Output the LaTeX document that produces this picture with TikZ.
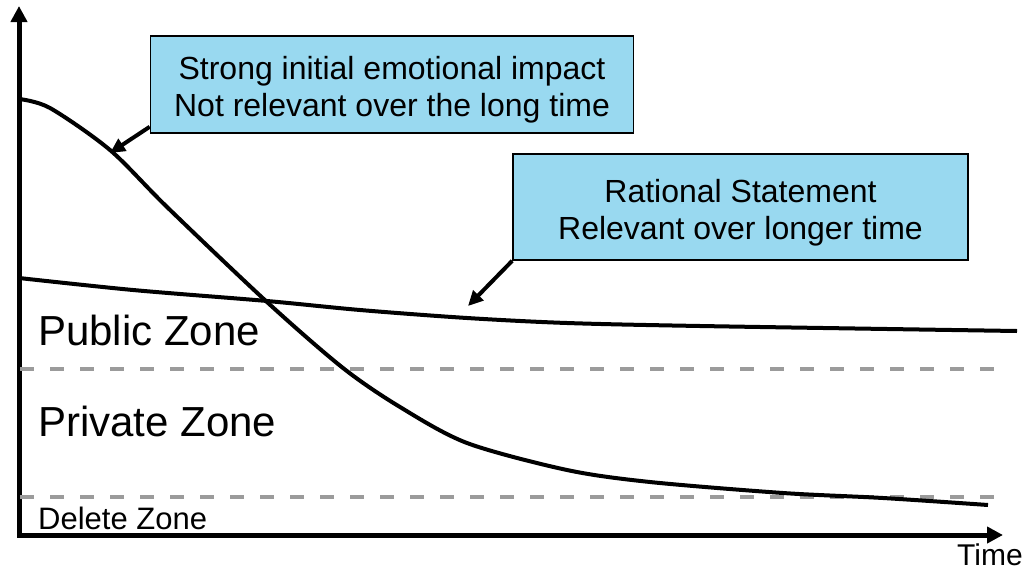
\documentclass[tikz,border=0pt]{standalone}
\usepackage{fontspec}
\setmainfont{Liberation Sans}
\usetikzlibrary{arrows.meta}
\definecolor{calloutblue}{RGB}{153,217,240}
\definecolor{zonegray}{RGB}{155,155,155}
\newcommand{\calloutstrut}{\rule{0pt}{34pt}}
\begin{document}
\begin{tikzpicture}[x=1pt, y=-1pt, every node/.style={align=center}]
\tikzset{
  callout/.style={draw, line width=1.6pt, fill=calloutblue, inner sep=0pt, font=\fontsize{32}{37}\selectfont},
  zone/.style={anchor=base west, inner sep=0pt},
  axis/.style={line width=5pt, {Triangle[length=16pt,width=16pt]}-{Triangle[length=16pt,width=16pt]}},
  border/.style={draw=zonegray, line width=3.6pt, dash pattern=on 14pt off 16pt},
  curve/.style={line width=4pt},
  pointer/.style={line width=4pt, -{Triangle[length=15pt,width=14pt]}}
}
\useasboundingbox (0,0) rectangle (1025,570);

% axes
\coordinate (origin) at (19,535);
\coordinate (ytop) at (19,6);
\coordinate (xend) at (1003,535);
\draw[axis] (ytop) -- (origin) -- (xend);

% zone borders
\draw[border] (20,369) -- (1003,369);
\draw[border] (20,497) -- (1003,497);

\node[zone, font=\fontsize{42}{50}\selectfont] (public) at (38,345) {Public Zone};
\node[zone, font=\fontsize{42}{50}\selectfont] (private) at (38,436) {Private Zone};
\node[zone, font=\fontsize{31}{37}\selectfont] (delete) at (38,529) {Delete Zone};
\node[zone, font=\fontsize{30}{36}\selectfont] (time) at (957,565) {Time};

% curves
\draw[curve] plot[smooth, tension=0.5] coordinates {(19,99) (50,108) (110,150) (167,207) (267,302) (343,368) (400,407) (467,443) (567,470) (650,482) (783,493) (883,498) (988,505)};
\draw[curve] plot[smooth, tension=0.5] coordinates {(19,278) (133,290) (267,301) (360,310) (467,318) (567,323) (700,326) (1017,331)};

% callouts
\node[callout, minimum width=483pt, minimum height=97pt] (emotional) at (392,84.5) {\calloutstrut Strong initial emotional impact\\Not relevant over the long time};
\node[callout, minimum width=455pt, minimum height=106pt] (rational) at (740.5,207) {\calloutstrut Rational Statement\\Relevant over longer time};

\coordinate (emotip) at (110,153);
\coordinate (rattip) at (468,306);
\draw[pointer] ([yshift=7pt]emotional.south west) -- (emotip);
\draw[pointer] (rational.south west) -- (rattip);
\end{tikzpicture}
\end{document}
